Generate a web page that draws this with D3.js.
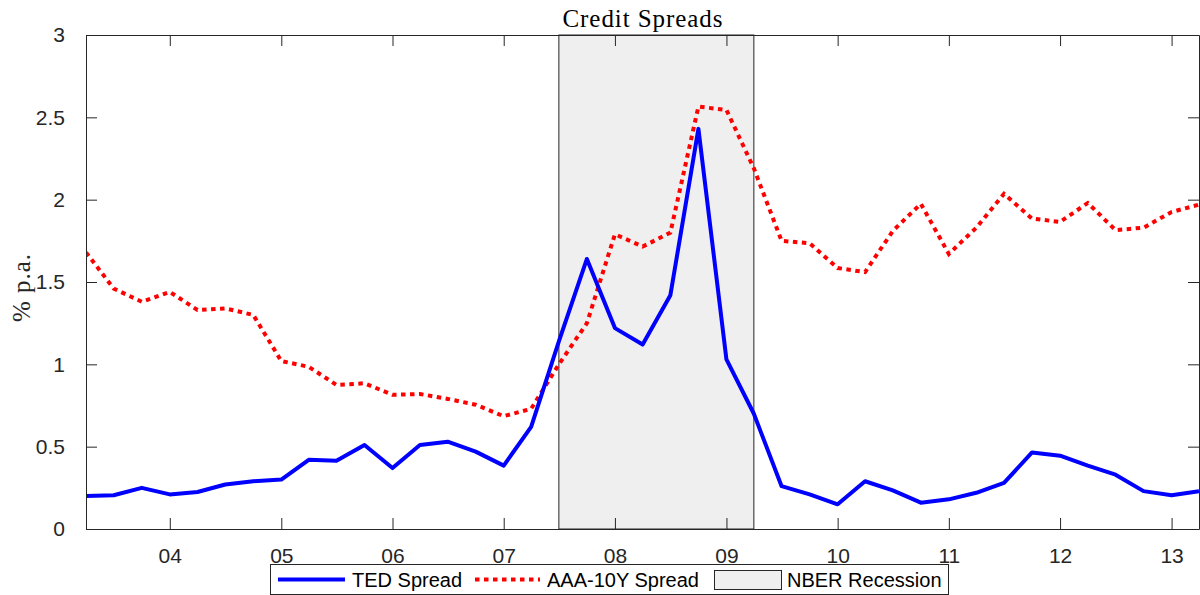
<!DOCTYPE html>
<html>
<head>
<meta charset="utf-8">
<script src="https://cdn.jsdelivr.net/npm/d3@7"></script>
<style>
  html, body { margin: 0; padding: 0; background: #fff; }
  svg { display: block; }
</style>
</head>
<body>
<svg id="chart" width="1200" height="595"></svg>
<script>
// Quarterly observations (first month of each quarter)
const quarters = [
  "2003-04", "2003-07", "2003-10",
  "2004-01", "2004-04", "2004-07", "2004-10",
  "2005-01", "2005-04", "2005-07", "2005-10",
  "2006-01", "2006-04", "2006-07", "2006-10",
  "2007-01", "2007-04", "2007-07", "2007-10",
  "2008-01", "2008-04", "2008-07", "2008-10",
  "2009-01", "2009-04", "2009-07", "2009-10",
  "2010-01", "2010-04", "2010-07", "2010-10",
  "2011-01", "2011-04", "2011-07", "2011-10",
  "2012-01", "2012-04", "2012-07", "2012-10",
  "2013-01", "2013-04"
];

// TED spread, % p.a.
const tedSpread = [
  0.20, 0.205, 0.25,
  0.21, 0.225, 0.27, 0.29,
  0.30, 0.42, 0.415, 0.51,
  0.37, 0.51, 0.53, 0.47,
  0.385, 0.62, 1.14, 1.64,
  1.22, 1.12, 1.42, 2.43,
  1.03, 0.70, 0.26, 0.21,
  0.15, 0.29, 0.235, 0.16,
  0.18, 0.22, 0.28, 0.465,
  0.445, 0.385, 0.33, 0.23,
  0.205, 0.23
];

// AAA corporate minus 10-year Treasury, % p.a.
const aaa10ySpread = [
  1.68, 1.46, 1.38,
  1.44, 1.33, 1.34, 1.30,
  1.02, 0.985, 0.875, 0.885,
  0.815, 0.82, 0.79, 0.755,
  0.685, 0.73, 1.00, 1.25,
  1.79, 1.715, 1.80, 2.565,
  2.545, 2.19, 1.75, 1.735,
  1.585, 1.56, 1.81, 1.975,
  1.67, 1.83, 2.035, 1.885,
  1.865, 1.98, 1.815, 1.83,
  1.925, 1.97
];

// NBER recession window (quarterly)
const recession = ["2007-07", "2009-04"];

const xTickYears = ["2004", "2005", "2006", "2007", "2008", "2009", "2010", "2011", "2012", "2013"];
const yTickValues = [0, 0.5, 1, 1.5, 2, 2.5, 3];

const titleText = "Credit Spreads";
const yLabelText = "% p.a.";
const legendLabels = ["TED Spread", "AAA-10Y Spread", "NBER Recession"];

// ---------------------------------------------------------------
const parseMonth = d3.timeParse("%Y-%m");
const parseYear = d3.timeParse("%Y");
const dates = quarters.map(parseMonth);

const plot = { left: 86, right: 1199, top: 35, bottom: 529 };
const axisColor = "#262626";
const sansFont = "'Liberation Sans', Arial, Helvetica, sans-serif";
const serifFont = "'Liberation Serif', 'Times New Roman', serif";

const svg = d3.select("#chart");

const x = d3.scaleTime()
  .domain([dates[0], dates[dates.length - 1]])
  .range([plot.left, plot.right]);

const y = d3.scaleLinear()
  .domain([0, 3])
  .range([plot.bottom, plot.top]);

svg.append("defs").append("clipPath").attr("id", "plot-clip")
  .append("rect")
  .attr("x", plot.left).attr("y", plot.top)
  .attr("width", plot.right - plot.left)
  .attr("height", plot.bottom - plot.top);

// Recession shading
const recStart = x(parseMonth(recession[0]));
const recEnd = x(parseMonth(recession[1]));
svg.append("rect")
  .attr("x", recStart)
  .attr("y", y(3))
  .attr("width", recEnd - recStart)
  .attr("height", y(0) - y(3))
  .attr("fill", "#efefef")
  .attr("stroke", axisColor)
  .attr("stroke-width", 1);

// Series lines
const seriesLayer = svg.append("g").attr("clip-path", "url(#plot-clip)");

const line = d3.line()
  .x((d, i) => x(dates[i]))
  .y(d => y(d));

seriesLayer.append("path")
  .datum(aaa10ySpread)
  .attr("d", line)
  .attr("fill", "none")
  .attr("stroke", "#ff0000")
  .attr("stroke-width", 4)
  .attr("stroke-dasharray", "4.5,4.5")
  .attr("stroke-linejoin", "miter");

seriesLayer.append("path")
  .datum(tedSpread)
  .attr("d", line)
  .attr("fill", "none")
  .attr("stroke", "#0000ff")
  .attr("stroke-width", 4)
  .attr("stroke-linejoin", "round");

// Axes: inward ticks on all four sides
const xTicks = xTickYears.map(parseYear);
const tickLen = 11;
const fmtYear = d3.timeFormat("%y");

const bottomAxis = d3.axisBottom(x).tickValues(xTicks).tickFormat(fmtYear)
  .tickSizeInner(-tickLen).tickSizeOuter(0).tickPadding(tickLen + 8);
const topAxis = d3.axisTop(x).tickValues(xTicks).tickFormat("")
  .tickSizeInner(-tickLen).tickSizeOuter(0);
const leftAxis = d3.axisLeft(y).tickValues(yTickValues).tickFormat(d3.format("~g"))
  .tickSizeInner(-tickLen).tickSizeOuter(0).tickPadding(tickLen + 10);
const rightAxis = d3.axisRight(y).tickValues(yTickValues).tickFormat("")
  .tickSizeInner(-tickLen).tickSizeOuter(0);

function styleAxis(g) {
  g.select(".domain").attr("stroke", axisColor).attr("stroke-width", 1);
  g.selectAll(".tick line").attr("stroke", axisColor).attr("stroke-width", 1);
  g.selectAll(".tick text")
    .attr("fill", axisColor)
    .style("font-family", sansFont)
    .style("font-size", "21px");
}

svg.append("g").attr("transform", `translate(0,${plot.bottom})`).call(bottomAxis).call(styleAxis);
svg.append("g").attr("transform", `translate(0,${plot.top})`).call(topAxis).call(styleAxis);
svg.append("g").attr("transform", `translate(${plot.left},0)`).call(leftAxis).call(styleAxis);
svg.append("g").attr("transform", `translate(${plot.right},0)`).call(rightAxis).call(styleAxis);

// Title
svg.append("text")
  .attr("x", (plot.left + plot.right) / 2)
  .attr("y", 27)
  .attr("text-anchor", "middle")
  .attr("fill", "#000")
  .style("font-family", serifFont)
  .style("font-size", "25px")
  .attr("textLength", 160)
  .attr("lengthAdjust", "spacing")
  .text(titleText);

// Y label
svg.append("text")
  .attr("transform", "translate(30,288) rotate(-90)")
  .attr("text-anchor", "middle")
  .attr("fill", axisColor)
  .style("font-family", serifFont)
  .style("font-size", "25px")
  .attr("textLength", 68)
  .attr("lengthAdjust", "spacing")
  .text(yLabelText);

// Legend
const legend = svg.append("g");
legend.append("rect")
  .attr("x", 270.5).attr("y", 564.5)
  .attr("width", 678).attr("height", 30)
  .attr("fill", "#fff")
  .attr("stroke", axisColor)
  .attr("stroke-width", 1);

const legY = 579.5;
legend.append("line")
  .attr("x1", 278).attr("x2", 345).attr("y1", legY).attr("y2", legY)
  .attr("stroke", "#0000ff").attr("stroke-width", 4);
legend.append("line")
  .attr("x1", 475).attr("x2", 540).attr("y1", legY).attr("y2", legY)
  .attr("stroke", "#ff0000").attr("stroke-width", 4)
  .attr("stroke-dasharray", "4.5,4.5");
legend.append("rect")
  .attr("x", 714.5).attr("y", 570.5)
  .attr("width", 67).attr("height", 19)
  .attr("fill", "#efefef")
  .attr("stroke", axisColor).attr("stroke-width", 1);

const legTextX = [352, 547, 787];
legend.selectAll("text.leg")
  .data(legendLabels)
  .join("text")
  .attr("class", "leg")
  .attr("x", (d, i) => legTextX[i])
  .attr("y", legY + 7)
  .attr("fill", "#000")
  .style("font-family", sansFont)
  .style("font-size", "20px")
  .text(d => d);
</script>
</body>
</html>
